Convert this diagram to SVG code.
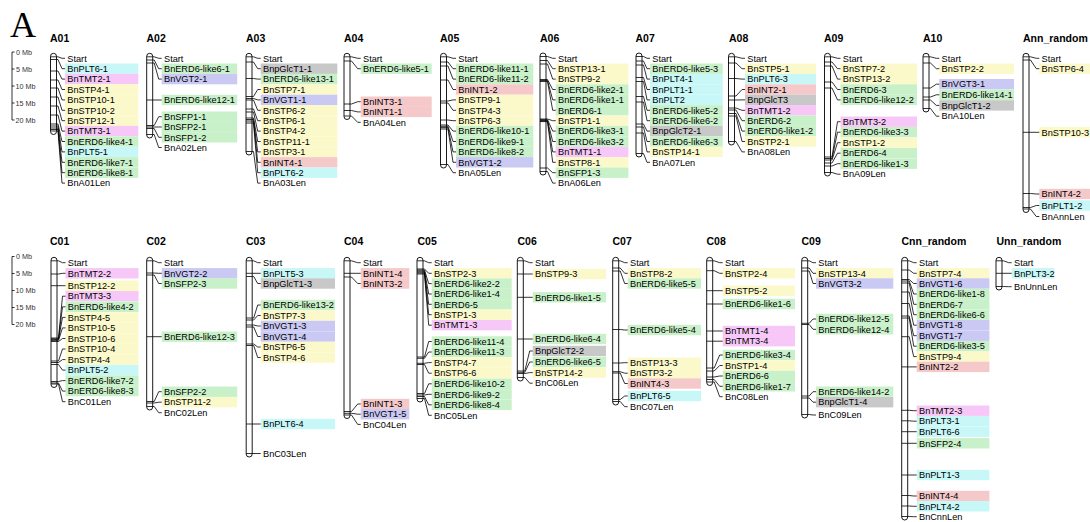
<svg xmlns="http://www.w3.org/2000/svg" width="1090" height="522" viewBox="0 0 1090 522">
<style>
.ch{fill:#fff;stroke:#000;stroke-width:.9}
.bd,.cn{stroke:#000;stroke-width:.8;fill:none}
.t{font:bold 10.5px "Liberation Sans",Arial,sans-serif}
text{font-family:"Liberation Sans",Arial,sans-serif;font-size:9.2px;fill:#000}
.s{font-size:7.2px;fill:#333}
.big{font-family:"Liberation Serif","Times New Roman",serif;font-size:36px}
.p{fill:#c8f7f7}.m{fill:#f7c8f7}.y{fill:#fbf9c9}.g{fill:#c9f1c9}.v{fill:#c9c9f4}.r{fill:#f5c9c9}.k{fill:#c8c8c8}
</style>
<rect width="1090" height="522" fill="#fff"/>
<text class="big" x="10" y="37">A</text>
<g id="scale-top">
<path class="bd" d="M14.5 52H12V120H14.5M12 69h2.5M12 86h2.5M12 103h2.5"/>
<text class="s" x="16" y="54.5">0 Mb</text><text class="s" x="16" y="71.5">5 Mb</text><text class="s" x="15.5" y="88.5">10 Mb</text><text class="s" x="15.5" y="105.5">15 Mb</text><text class="s" x="15.5" y="122.5">20 Mb</text>
</g>
<g id="scale-bottom">
<path class="bd" d="M14.5 256.5H12V324.5H14.5M12 273.5h2.5M12 290.5h2.5M12 307.5h2.5"/>
<text class="s" x="16" y="259">0 Mb</text><text class="s" x="16" y="276">5 Mb</text><text class="s" x="15.5" y="293">10 Mb</text><text class="s" x="15.5" y="310">15 Mb</text><text class="s" x="15.5" y="327">20 Mb</text>
</g>

<g id="A01">
<text class="t" x="50" y="42">A01</text>
<rect class="p" x="65" y="63.5" width="73.3" height="10.4"/><rect class="m" x="65" y="73.9" width="73.3" height="10.4"/><rect class="y" x="65" y="84.3" width="73.3" height="10.4"/><rect class="y" x="65" y="94.7" width="73.3" height="10.4"/><rect class="y" x="65" y="105.1" width="73.3" height="10.4"/><rect class="y" x="65" y="115.5" width="73.3" height="10.4"/><rect class="m" x="65" y="125.9" width="73.3" height="10.4"/><rect class="g" x="65" y="136.3" width="73.3" height="10.4"/><rect class="p" x="65" y="146.7" width="73.3" height="10.4"/><rect class="g" x="65" y="157.1" width="73.3" height="10.4"/><rect class="g" x="65" y="167.5" width="73.3" height="10.4"/>
<rect class="ch" x="50.5" y="53.3" width="6" height="81.2" rx="3"/>
<path class="bd" d="M50.5 56.8h6M50.5 59.5h6M50.5 71h6M50.5 80h6M50.5 88h6M50.5 97h6M50.5 106h6M50.5 115h6M50.5 124h6M50.5 126h6M50.5 128h6M50.5 129.5h6M50.5 131h6"/>
<text x="67.3" y="61.5">Start</text><text x="67.3" y="71.9">BnPLT6-1</text><text x="67.3" y="82.3">BnTMT2-1</text><text x="67.3" y="92.7">BnSTP4-1</text><text x="67.3" y="103.1">BnSTP10-1</text><text x="67.3" y="113.5">BnSTP10-2</text><text x="67.3" y="123.9">BnSTP12-1</text><text x="67.3" y="134.3">BnTMT3-1</text><text x="67.3" y="144.7">BnERD6-like4-1</text><text x="67.3" y="155.1">BnPLT5-1</text><text x="67.3" y="165.5">BnERD6-like7-1</text><text x="67.3" y="175.9">BnERD6-like8-1</text><text x="67.3" y="186.3">BnA01Len</text>
</g>

<g id="A02">
<text class="t" x="146.5" y="42">A02</text>
<rect class="g" x="161.7" y="63.5" width="75.5" height="10.4"/><rect class="v" x="161.7" y="73.9" width="75.5" height="10.4"/><rect class="g" x="161.7" y="94.8" width="75.5" height="10.4"/><rect class="g" x="161.7" y="111.5" width="75.5" height="10.4"/><rect class="g" x="161.7" y="121.8" width="75.5" height="10.4"/><rect class="g" x="161.7" y="132.1" width="75.5" height="10.4"/>
<rect class="ch" x="146.7" y="53.3" width="6" height="84.7" rx="3"/>
<path class="bd" d="M146.7 56.8h6M146.7 60h6M146.7 63h6M146.7 100h6M146.7 125.5h6M146.7 127h6M146.7 128.5h6M146.7 134.5h6"/>
<text x="164" y="61.5">Start</text><text x="164" y="71.9">BnERD6-like6-1</text><text x="164" y="82.3">BnVGT2-1</text><text x="164" y="103.2">BnERD6-like12-1</text><text x="164" y="119.9">BnSFP1-1</text><text x="164" y="130.2">BnSFP2-1</text><text x="164" y="140.5">BnSFP1-2</text><text x="164" y="150.7">BnA02Len</text>
</g>

<g id="A03">
<text class="t" x="246" y="42">A03</text>
<rect class="k" x="260.7" y="63.5" width="76.6" height="10.4"/><rect class="g" x="260.7" y="73.9" width="76.6" height="10.4"/><rect class="y" x="260.7" y="84.3" width="76.6" height="10.4"/><rect class="v" x="260.7" y="94.7" width="76.6" height="10.4"/><rect class="y" x="260.7" y="105.1" width="76.6" height="10.4"/><rect class="y" x="260.7" y="115.5" width="76.6" height="10.4"/><rect class="y" x="260.7" y="125.9" width="76.6" height="10.4"/><rect class="y" x="260.7" y="136.3" width="76.6" height="10.4"/><rect class="y" x="260.7" y="146.7" width="76.6" height="10.4"/><rect class="r" x="260.7" y="157.1" width="76.6" height="10.4"/><rect class="p" x="260.7" y="167.5" width="76.6" height="10.4"/>
<rect class="ch" x="246" y="53.3" width="6" height="101.7" rx="3"/>
<path class="bd" d="M246 56.8h6M246 62h6M246 78.5h6M246 96.5h6M246 98.5h6M246 100h6M246 109h6M246 112h6M246 118h6M246 119.5h6M246 121h6M246 123h6M246 151.5h6"/>
<text x="263" y="61.5">Start</text><text x="263" y="71.9">BnpGlcT1-1</text><text x="263" y="82.3">BnERD6-like13-1</text><text x="263" y="92.7">BnSTP7-1</text><text x="263" y="103.1">BnVGT1-1</text><text x="263" y="113.5">BnSTP6-2</text><text x="263" y="123.9">BnSTP6-1</text><text x="263" y="134.3">BnSTP4-2</text><text x="263" y="144.7">BnSTP11-1</text><text x="263" y="155.1">BnSTP3-1</text><text x="263" y="165.5">BnINT4-1</text><text x="263" y="175.9">BnPLT6-2</text><text x="263" y="186.3">BnA03Len</text>
</g>

<g id="A04">
<text class="t" x="344" y="42">A04</text>
<rect class="g" x="360.7" y="63.5" width="71" height="10.4"/><rect class="r" x="360.7" y="96.5" width="71" height="10.4"/><rect class="r" x="360.7" y="106.7" width="71" height="10.4"/>
<rect class="ch" x="344" y="53.3" width="6" height="66.2" rx="3"/>
<path class="bd" d="M344 56.8h6M344 61h6M344 104h6M344 110.5h6M344 116h6"/>
<text x="363" y="61.5">Start</text><text x="363" y="71.9">BnERD6-like5-1</text><text x="363" y="104.9">BnINT3-1</text><text x="363" y="115.1">BnINT1-1</text><text x="363" y="125.5">BnA04Len</text>
</g>

<g id="A05">
<text class="t" x="440" y="42">A05</text>
<rect class="g" x="456" y="63.5" width="77.3" height="10.4"/><rect class="g" x="456" y="73.9" width="77.3" height="10.4"/><rect class="r" x="456" y="84.3" width="77.3" height="10.4"/><rect class="y" x="456" y="94.7" width="77.3" height="10.4"/><rect class="y" x="456" y="105.1" width="77.3" height="10.4"/><rect class="y" x="456" y="115.5" width="77.3" height="10.4"/><rect class="g" x="456" y="125.9" width="77.3" height="10.4"/><rect class="g" x="456" y="136.3" width="77.3" height="10.4"/><rect class="g" x="456" y="146.7" width="77.3" height="10.4"/><rect class="v" x="456" y="157.1" width="77.3" height="10.4"/>
<rect class="ch" x="440.5" y="53.3" width="6" height="114.7" rx="3"/>
<path class="bd" d="M440.5 56.8h6M440.5 62h6M440.5 66h6M440.5 80h6M440.5 101h6M440.5 103h6M440.5 120h6M440.5 125h6M440.5 126.3h6M440.5 127.6h6M440.5 129h6M440.5 164.5h6"/>
<text x="458.3" y="61.5">Start</text><text x="458.3" y="71.9">BnERD6-like11-1</text><text x="458.3" y="82.3">BnERD6-like11-2</text><text x="458.3" y="92.7">BnINT1-2</text><text x="458.3" y="103.1">BnSTP9-1</text><text x="458.3" y="113.5">BnSTP4-3</text><text x="458.3" y="123.9">BnSTP6-3</text><text x="458.3" y="134.3">BnERD6-like10-1</text><text x="458.3" y="144.7">BnERD6-like9-1</text><text x="458.3" y="155.1">BnERD6-like8-2</text><text x="458.3" y="165.5">BnVGT1-2</text><text x="458.3" y="175.9">BnA05Len</text>
</g>

<g id="A06">
<text class="t" x="540" y="42">A06</text>
<rect class="y" x="555.7" y="63.5" width="72.7" height="10.4"/><rect class="y" x="555.7" y="73.9" width="72.7" height="10.4"/><rect class="g" x="555.7" y="84.3" width="72.7" height="10.4"/><rect class="g" x="555.7" y="94.7" width="72.7" height="10.4"/><rect class="g" x="555.7" y="105.1" width="72.7" height="10.4"/><rect class="y" x="555.7" y="115.5" width="72.7" height="10.4"/><rect class="g" x="555.7" y="125.9" width="72.7" height="10.4"/><rect class="g" x="555.7" y="136.3" width="72.7" height="10.4"/><rect class="m" x="555.7" y="146.7" width="72.7" height="10.4"/><rect class="y" x="555.7" y="157.1" width="72.7" height="10.4"/><rect class="g" x="555.7" y="167.5" width="72.7" height="10.4"/>
<rect class="ch" x="540" y="53" width="6" height="122" rx="3"/>
<path class="bd" d="M540 56.5h6M540 60.5h6M540 64h6M540 79.5h6M540 80.5h6M540 81.5h6M540 119h6M540 119.7h6M540 120.4h6M540 121h6M540 121.6h6M540 168h6M540 171.5h6"/>
<text x="558" y="61.5">Start</text><text x="558" y="71.9">BnSTP13-1</text><text x="558" y="82.3">BnSTP9-2</text><text x="558" y="92.7">BnERD6-like2-1</text><text x="558" y="103.1">BnERD6-like1-1</text><text x="558" y="113.5">BnERD6-1</text><text x="558" y="123.9">BnSTP1-1</text><text x="558" y="134.3">BnERD6-like3-1</text><text x="558" y="144.7">BnERD6-like3-2</text><text x="558" y="155.1">BnTMT1-1</text><text x="558" y="165.5">BnSTP8-1</text><text x="558" y="175.9">BnSFP1-3</text><text x="558" y="186.3">BnA06Len</text>
</g>

<g id="A07">
<text class="t" x="635.5" y="42">A07</text>
<rect class="g" x="650" y="63.5" width="72.7" height="10.4"/><rect class="p" x="650" y="73.9" width="72.7" height="10.4"/><rect class="p" x="650" y="84.3" width="72.7" height="10.4"/><rect class="p" x="650" y="94.7" width="72.7" height="10.4"/><rect class="g" x="650" y="105.1" width="72.7" height="10.4"/><rect class="g" x="650" y="115.5" width="72.7" height="10.4"/><rect class="k" x="650" y="125.9" width="72.7" height="10.4"/><rect class="g" x="650" y="136.3" width="72.7" height="10.4"/><rect class="y" x="650" y="146.7" width="72.7" height="10.4"/>
<rect class="ch" x="636" y="53" width="6" height="104" rx="3"/>
<path class="bd" d="M636 56.5h6M636 61h6M636 65h6M636 77.5h6M636 81.5h6M636 96.5h6M636 102h6M636 124h6M636 127h6M636 133h6M636 153.5h6"/>
<text x="652.3" y="61.5">Start</text><text x="652.3" y="71.9">BnERD6-like5-3</text><text x="652.3" y="82.3">BnPLT4-1</text><text x="652.3" y="92.7">BnPLT1-1</text><text x="652.3" y="103.1">BnPLT2</text><text x="652.3" y="113.5">BnERD6-like5-2</text><text x="652.3" y="123.9">BnERD6-like6-2</text><text x="652.3" y="134.3">BnpGlcT2-1</text><text x="652.3" y="144.7">BnERD6-like6-3</text><text x="652.3" y="155.1">BnSTP14-1</text><text x="652.3" y="165.5">BnA07Len</text>
</g>

<g id="A08">
<text class="t" x="729" y="42">A08</text>
<rect class="y" x="745" y="63.5" width="71" height="10.4"/><rect class="p" x="745" y="73.9" width="71" height="10.4"/><rect class="r" x="745" y="84.3" width="71" height="10.4"/><rect class="k" x="745" y="94.7" width="71" height="10.4"/><rect class="m" x="745" y="105.1" width="71" height="10.4"/><rect class="g" x="745" y="115.5" width="71" height="10.4"/><rect class="g" x="745" y="125.9" width="71" height="10.4"/><rect class="y" x="745" y="136.3" width="71" height="10.4"/>
<rect class="ch" x="728.5" y="53.3" width="6" height="91.7" rx="3"/>
<path class="bd" d="M728.5 56.8h6M728.5 63h6M728.5 78.5h6M728.5 96h6M728.5 100h6M728.5 108h6M728.5 110h6M728.5 113.5h6M728.5 116h6M728.5 141.5h6"/>
<text x="747.3" y="61.5">Start</text><text x="747.3" y="71.9">BnSTP5-1</text><text x="747.3" y="82.3">BnPLT6-3</text><text x="747.3" y="92.7">BnINT2-1</text><text x="747.3" y="103.1">BnpGlcT3</text><text x="747.3" y="113.5">BnTMT1-2</text><text x="747.3" y="123.9">BnERD6-2</text><text x="747.3" y="134.3">BnERD6-like1-2</text><text x="747.3" y="144.7">BnSTP2-1</text><text x="747.3" y="155.1">BnA08Len</text>
</g>

<g id="A09">
<text class="t" x="824" y="42">A09</text>
<rect class="y" x="840.5" y="63.5" width="76.5" height="10.4"/><rect class="y" x="840.5" y="73.9" width="76.5" height="10.4"/><rect class="g" x="840.5" y="84.3" width="76.5" height="10.4"/><rect class="g" x="840.5" y="94.7" width="76.5" height="10.4"/><rect class="m" x="840.5" y="116.5" width="76.5" height="10.4"/><rect class="g" x="840.5" y="127" width="76.5" height="10.4"/><rect class="y" x="840.5" y="137.5" width="76.5" height="10.4"/><rect class="g" x="840.5" y="148" width="76.5" height="10.4"/><rect class="g" x="840.5" y="158.5" width="76.5" height="10.4"/>
<rect class="ch" x="824.5" y="53.3" width="6" height="122.7" rx="3"/>
<path class="bd" d="M824.5 56.8h6M824.5 62h6M824.5 66h6M824.5 82h6M824.5 88h6M824.5 157h6M824.5 158.5h6M824.5 160h6M824.5 163h6M824.5 166h6M824.5 172.5h6"/>
<text x="842.8" y="61.5">Start</text><text x="842.8" y="71.9">BnSTP7-2</text><text x="842.8" y="82.3">BnSTP13-2</text><text x="842.8" y="92.7">BnERD6-3</text><text x="842.8" y="103.1">BnERD6-like12-2</text><text x="842.8" y="124.9">BnTMT3-2</text><text x="842.8" y="135.4">BnERD6-like3-3</text><text x="842.8" y="145.9">BnSTP1-2</text><text x="842.8" y="156.4">BnERD6-4</text><text x="842.8" y="166.9">BnERD6-like1-3</text><text x="842.8" y="177.4">BnA09Len</text>
</g>

<g id="A10">
<text class="t" x="923" y="42">A10</text>
<rect class="y" x="939.3" y="63.5" width="74.7" height="10.4"/><rect class="v" x="939.3" y="79" width="74.7" height="10.4"/><rect class="g" x="939.3" y="89.6" width="74.7" height="10.4"/><rect class="k" x="939.3" y="100.2" width="74.7" height="10.4"/>
<rect class="ch" x="923" y="53.3" width="6" height="58.7" rx="3"/>
<path class="bd" d="M923 56.8h6M923 63h6M923 88h6M923 97h6M923 100h6M923 108.5h6"/>
<text x="941.6" y="61.5">Start</text><text x="941.6" y="71.9">BnSTP2-2</text><text x="941.6" y="87.4">BnVGT3-1</text><text x="941.6" y="98">BnERD6-like14-1</text><text x="941.6" y="108.6">BnpGlcT1-2</text><text x="941.6" y="119.4">BnA10Len</text>
</g>

<g id="Ann_random">
<text class="t" x="1023" y="42">Ann_random</text>
<rect class="y" x="1039.3" y="63.5" width="56" height="10.4"/><rect class="y" x="1039.3" y="127.1" width="56" height="10.4"/><rect class="r" x="1039.3" y="188.8" width="56" height="10.4"/><rect class="p" x="1039.3" y="200.3" width="56" height="10.4"/>
<rect class="ch" x="1023" y="53.3" width="6" height="159.2" rx="3"/>
<path class="bd" d="M1023 56.8h6M1023 60h6M1023 132.3h6M1023 193.5h6M1023 207.5h6M1023 209h6"/>
<text x="1041.6" y="61.5">Start</text><text x="1041.6" y="71.9">BnSTP6-4</text><text x="1041.6" y="135.5">BnSTP10-3</text><text x="1041.6" y="197.2">BnINT4-2</text><text x="1041.6" y="208.7">BnPLT1-2</text><text x="1041.6" y="219.7">BnAnnLen</text>
</g>

<g id="C01">
<text class="t" x="50" y="245">C01</text>
<rect class="m" x="65.5" y="268.1" width="73" height="10.4"/><rect class="y" x="65.5" y="280.5" width="73" height="10.4"/><rect class="m" x="65.5" y="291" width="73" height="10.4"/><rect class="g" x="65.5" y="301.6" width="73" height="10.4"/><rect class="y" x="65.5" y="312.2" width="73" height="10.4"/><rect class="y" x="65.5" y="322.7" width="73" height="10.4"/><rect class="y" x="65.5" y="333.3" width="73" height="10.4"/><rect class="y" x="65.5" y="343.8" width="73" height="10.4"/><rect class="y" x="65.5" y="354.4" width="73" height="10.4"/><rect class="p" x="65.5" y="364.9" width="73" height="10.4"/><rect class="g" x="65.5" y="375.4" width="73" height="10.4"/><rect class="g" x="65.5" y="385.9" width="73" height="10.4"/>
<rect class="ch" x="51" y="257.3" width="6" height="130.2" rx="3"/>
<path class="bd" d="M51 260.8h6M51 274h6M51 285.7h6M51 338h6M51 338.8h6M51 339.6h6M51 340.4h6M51 341.5h6M51 361h6M51 362.5h6M51 364.5h6M51 381.5h6M51 383h6M51 384h6"/>
<text x="67.8" y="265.9">Start</text><text x="67.8" y="276.5">BnTMT2-2</text><text x="67.8" y="288.9">BnSTP12-2</text><text x="67.8" y="299.4">BnTMT3-3</text><text x="67.8" y="310">BnERD6-like4-2</text><text x="67.8" y="320.6">BnSTP4-5</text><text x="67.8" y="331.1">BnSTP10-5</text><text x="67.8" y="341.7">BnSTP10-6</text><text x="67.8" y="352.2">BnSTP10-4</text><text x="67.8" y="362.8">BnSTP4-4</text><text x="67.8" y="373.3">BnPLT5-2</text><text x="67.8" y="383.8">BnERD6-like7-2</text><text x="67.8" y="394.3">BnERD6-like8-3</text><text x="67.8" y="404.9">BnC01Len</text>
</g>

<g id="C02">
<text class="t" x="146.5" y="245">C02</text>
<rect class="v" x="161.7" y="268.1" width="75.5" height="10.4"/><rect class="g" x="161.7" y="278.3" width="75.5" height="10.4"/><rect class="g" x="161.7" y="331.5" width="75.5" height="10.4"/><rect class="g" x="161.7" y="386.5" width="75.5" height="10.4"/><rect class="y" x="161.7" y="397" width="75.5" height="10.4"/>
<rect class="ch" x="146.7" y="257.3" width="6" height="152.7" rx="3"/>
<path class="bd" d="M146.7 260.8h6M146.7 273h6M146.7 275h6M146.7 336.7h6M146.7 401.5h6M146.7 403h6M146.7 406.5h6"/>
<text x="164" y="265.9">Start</text><text x="164" y="276.5">BnVGT2-2</text><text x="164" y="286.7">BnSFP2-3</text><text x="164" y="339.9">BnERD6-like12-3</text><text x="164" y="394.9">BnSFP2-2</text><text x="164" y="405.4">BnSTP11-2</text><text x="164" y="415.9">BnC02Len</text>
</g>

<g id="C03">
<text class="t" x="246" y="245">C03</text>
<rect class="p" x="260.7" y="268.1" width="74.3" height="10.4"/><rect class="k" x="260.7" y="278.3" width="74.3" height="10.4"/><rect class="g" x="260.7" y="299.8" width="74.3" height="10.4"/><rect class="y" x="260.7" y="310.3" width="74.3" height="10.4"/><rect class="v" x="260.7" y="320.8" width="74.3" height="10.4"/><rect class="v" x="260.7" y="331.3" width="74.3" height="10.4"/><rect class="y" x="260.7" y="341.8" width="74.3" height="10.4"/><rect class="y" x="260.7" y="352.3" width="74.3" height="10.4"/><rect class="p" x="260.7" y="418.8" width="74.3" height="10.4"/>
<rect class="ch" x="246.2" y="257.3" width="6" height="199.7" rx="3"/>
<path class="bd" d="M246.2 260.8h6M246.2 273.3h6M246.2 276.5h6M246.2 318h6M246.2 320h6M246.2 325h6M246.2 327h6M246.2 344h6M246.2 345.5h6M246.2 424h6M246.2 453.5h6"/>
<text x="263" y="265.9">Start</text><text x="263" y="276.5">BnPLT5-3</text><text x="263" y="286.7">BnpGlcT1-3</text><text x="263" y="308.2">BnERD6-like13-2</text><text x="263" y="318.7">BnSTP7-3</text><text x="263" y="329.2">BnVGT1-3</text><text x="263" y="339.7">BnVGT1-4</text><text x="263" y="350.2">BnSTP6-5</text><text x="263" y="360.7">BnSTP4-6</text><text x="263" y="427.2">BnPLT6-4</text><text x="263" y="456.7">BnC03Len</text>
</g>

<g id="C04">
<text class="t" x="344" y="245">C04</text>
<rect class="r" x="360.7" y="268.1" width="48.6" height="10.4"/><rect class="r" x="360.7" y="278.3" width="48.6" height="10.4"/><rect class="r" x="360.7" y="398.8" width="48.6" height="10.4"/><rect class="v" x="360.7" y="409" width="48.6" height="10.4"/>
<rect class="ch" x="344" y="257.3" width="6" height="161.2" rx="3"/>
<path class="bd" d="M344 260.8h6M344 273.3h6M344 277h6M344 411.5h6M344 413.3h6M344 415h6"/>
<text x="363" y="265.9">Start</text><text x="363" y="276.5">BnINT1-4</text><text x="363" y="286.7">BnINT3-2</text><text x="363" y="407.2">BnINT1-3</text><text x="363" y="417.4">BnVGT1-5</text><text x="363" y="427.6">BnC04Len</text>
</g>

<g id="C05">
<text class="t" x="417.5" y="245">C05</text>
<rect class="y" x="431.7" y="268.1" width="80" height="10.4"/><rect class="g" x="431.7" y="278.4" width="80" height="10.4"/><rect class="g" x="431.7" y="288.8" width="80" height="10.4"/><rect class="g" x="431.7" y="299.1" width="80" height="10.4"/><rect class="y" x="431.7" y="309.5" width="80" height="10.4"/><rect class="m" x="431.7" y="320" width="80" height="10.4"/><rect class="g" x="431.7" y="336.3" width="80" height="10.4"/><rect class="g" x="431.7" y="346.8" width="80" height="10.4"/><rect class="y" x="431.7" y="357.4" width="80" height="10.4"/><rect class="y" x="431.7" y="368" width="80" height="10.4"/><rect class="g" x="431.7" y="378.6" width="80" height="10.4"/><rect class="g" x="431.7" y="389.1" width="80" height="10.4"/><rect class="g" x="431.7" y="399.6" width="80" height="10.4"/>
<rect class="ch" x="417" y="257.3" width="6" height="144.7" rx="3"/>
<path class="bd" d="M417 260.8h6M417 269h6M417 270h6M417 271h6M417 272h6M417 273h6M417 274h6M417 357h6M417 358.3h6M417 363.3h6M417 364.5h6M417 393.5h6M417 395h6M417 396.5h6M417 398.5h6"/>
<text x="434" y="265.9">Start</text><text x="434" y="276.5">BnSTP2-3</text><text x="434" y="286.8">BnERD6-like2-2</text><text x="434" y="297.2">BnERD6-like1-4</text><text x="434" y="307.5">BnERD6-5</text><text x="434" y="317.9">BnSTP1-3</text><text x="434" y="328.4">BnTMT1-3</text><text x="434" y="344.7">BnERD6-like11-4</text><text x="434" y="355.2">BnERD6-like11-3</text><text x="434" y="365.8">BnSTP4-7</text><text x="434" y="376.4">BnSTP6-6</text><text x="434" y="387">BnERD6-like10-2</text><text x="434" y="397.5">BnERD6-like9-2</text><text x="434" y="408">BnERD6-like8-4</text><text x="434" y="418.5">BnC05Len</text>
</g>

<g id="C06">
<text class="t" x="517.5" y="245">C06</text>
<rect class="y" x="532.7" y="268.8" width="73.3" height="10.4"/><rect class="g" x="532.7" y="292.1" width="73.3" height="10.4"/><rect class="g" x="532.7" y="333.8" width="73.3" height="10.4"/><rect class="k" x="532.7" y="345.8" width="73.3" height="10.4"/><rect class="g" x="532.7" y="356.8" width="73.3" height="10.4"/><rect class="y" x="532.7" y="367.4" width="73.3" height="10.4"/>
<rect class="ch" x="517.3" y="257.3" width="6" height="123.7" rx="3"/>
<path class="bd" d="M517.3 260.8h6M517.3 274h6M517.3 297.3h6M517.3 339h6M517.3 371h6M517.3 372.3h6M517.3 373.5h6M517.3 377.5h6"/>
<text x="535" y="265.9">Start</text><text x="535" y="277.2">BnSTP9-3</text><text x="535" y="300.5">BnERD6-like1-5</text><text x="535" y="342.2">BnERD6-like6-4</text><text x="535" y="354.2">BnpGlcT2-2</text><text x="535" y="365.2">BnERD6-like6-5</text><text x="535" y="375.8">BnSTP14-2</text><text x="535" y="386.4">BnC06Len</text>
</g>

<g id="C07">
<text class="t" x="612.5" y="245">C07</text>
<rect class="y" x="627.7" y="268.1" width="73.3" height="10.4"/><rect class="g" x="627.7" y="278.3" width="73.3" height="10.4"/><rect class="g" x="627.7" y="324.8" width="73.3" height="10.4"/><rect class="y" x="627.7" y="357.5" width="73.3" height="10.4"/><rect class="y" x="627.7" y="368" width="73.3" height="10.4"/><rect class="r" x="627.7" y="378.3" width="73.3" height="10.4"/><rect class="p" x="627.7" y="390.8" width="73.3" height="10.4"/>
<rect class="ch" x="612.7" y="257.3" width="6" height="147.7" rx="3"/>
<path class="bd" d="M612.7 260.8h6M612.7 268h6M612.7 271h6M612.7 329.5h6M612.7 363h6M612.7 371.7h6M612.7 373h6M612.7 399.5h6M612.7 401.5h6"/>
<text x="630" y="265.9">Start</text><text x="630" y="276.5">BnSTP8-2</text><text x="630" y="286.7">BnERD6-like5-5</text><text x="630" y="333.2">BnERD6-like5-4</text><text x="630" y="365.9">BnSTP13-3</text><text x="630" y="376.4">BnSTP3-2</text><text x="630" y="386.7">BnINT4-3</text><text x="630" y="399.2">BnPLT6-5</text><text x="630" y="409.9">BnC07Len</text>
</g>

<g id="C08">
<text class="t" x="706.5" y="245">C08</text>
<rect class="y" x="722.7" y="268.1" width="72.3" height="10.4"/><rect class="y" x="722.7" y="285.5" width="72.3" height="10.4"/><rect class="g" x="722.7" y="298.8" width="72.3" height="10.4"/><rect class="m" x="722.7" y="325.8" width="72.3" height="10.4"/><rect class="m" x="722.7" y="336" width="72.3" height="10.4"/><rect class="g" x="722.7" y="349.8" width="72.3" height="10.4"/><rect class="y" x="722.7" y="360.3" width="72.3" height="10.4"/><rect class="g" x="722.7" y="370.8" width="72.3" height="10.4"/><rect class="g" x="722.7" y="381.1" width="72.3" height="10.4"/>
<rect class="ch" x="706.7" y="257.3" width="6" height="128.2" rx="3"/>
<path class="bd" d="M706.7 260.8h6M706.7 270.7h6M706.7 290.7h6M706.7 304h6M706.7 331h6M706.7 341.2h6M706.7 368h6M706.7 371h6M706.7 377h6M706.7 379.5h6M706.7 382h6"/>
<text x="725" y="265.9">Start</text><text x="725" y="276.5">BnSTP2-4</text><text x="725" y="293.9">BnSTP5-2</text><text x="725" y="307.2">BnERD6-like1-6</text><text x="725" y="334.2">BnTMT1-4</text><text x="725" y="344.4">BnTMT3-4</text><text x="725" y="358.2">BnERD6-like3-4</text><text x="725" y="368.7">BnSTP1-4</text><text x="725" y="379.2">BnERD6-6</text><text x="725" y="389.5">BnERD6-like1-7</text><text x="725" y="399.9">BnC08Len</text>
</g>

<g id="C09">
<text class="t" x="801.5" y="245">C09</text>
<rect class="y" x="816" y="268.1" width="77.3" height="10.4"/><rect class="v" x="816" y="278.3" width="77.3" height="10.4"/><rect class="g" x="816" y="313.8" width="77.3" height="10.4"/><rect class="g" x="816" y="324.1" width="77.3" height="10.4"/><rect class="g" x="816" y="386.5" width="77.3" height="10.4"/><rect class="k" x="816" y="397" width="77.3" height="10.4"/>
<rect class="ch" x="801.7" y="257.3" width="6" height="160.7" rx="3"/>
<path class="bd" d="M801.7 260.8h6M801.7 268h6M801.7 271h6M801.7 323.3h6M801.7 324.5h6M801.7 396h6M801.7 398h6M801.7 414.5h6"/>
<text x="818.3" y="265.9">Start</text><text x="818.3" y="276.5">BnSTP13-4</text><text x="818.3" y="286.7">BnVGT3-2</text><text x="818.3" y="322.2">BnERD6-like12-5</text><text x="818.3" y="332.5">BnERD6-like12-4</text><text x="818.3" y="394.9">BnERD6-like14-2</text><text x="818.3" y="405.4">BnpGlcT1-4</text><text x="818.3" y="418.2">BnC09Len</text>
</g>

<g id="Cnn_random">
<text class="t" x="901.5" y="245">Cnn_random</text>
<rect class="y" x="916.7" y="268.1" width="72.7" height="10.4"/><rect class="v" x="916.7" y="278.3" width="72.7" height="10.4"/><rect class="g" x="916.7" y="288.8" width="72.7" height="10.4"/><rect class="g" x="916.7" y="299.1" width="72.7" height="10.4"/><rect class="g" x="916.7" y="309.5" width="72.7" height="10.4"/><rect class="v" x="916.7" y="320" width="72.7" height="10.4"/><rect class="v" x="916.7" y="330.5" width="72.7" height="10.4"/><rect class="g" x="916.7" y="341" width="72.7" height="10.4"/><rect class="y" x="916.7" y="351.4" width="72.7" height="10.4"/><rect class="r" x="916.7" y="361.7" width="72.7" height="10.4"/><rect class="m" x="916.7" y="405.5" width="72.7" height="10.4"/><rect class="p" x="916.7" y="416" width="72.7" height="10.4"/><rect class="p" x="916.7" y="426.5" width="72.7" height="10.4"/><rect class="g" x="916.7" y="438.1" width="72.7" height="10.4"/><rect class="p" x="916.7" y="469.8" width="72.7" height="10.4"/><rect class="r" x="916.7" y="490.8" width="72.7" height="10.4"/><rect class="p" x="916.7" y="501.1" width="72.7" height="10.4"/>
<rect class="ch" x="901.7" y="257.3" width="6" height="262.7" rx="3"/>
<path class="bd" d="M901.7 260.8h6M901.7 270h6M901.7 279.5h6M901.7 281h6M901.7 283h6M901.7 292h6M901.7 303.5h6M901.7 316h6M901.7 318h6M901.7 336.7h6M901.7 366.9h6M901.7 410.3h6M901.7 420.8h6M901.7 431.7h6M901.7 443.3h6M901.7 475h6M901.7 495.5h6M901.7 506h6M901.7 516.5h6"/>
<text x="919" y="265.9">Start</text><text x="919" y="276.5">BnSTP7-4</text><text x="919" y="286.7">BnVGT1-6</text><text x="919" y="297.2">BnERD6-like1-8</text><text x="919" y="307.5">BnERD6-7</text><text x="919" y="317.9">BnERD6-like6-6</text><text x="919" y="328.4">BnVGT1-8</text><text x="919" y="338.9">BnVGT1-7</text><text x="919" y="349.4">BnERD6-like3-5</text><text x="919" y="359.8">BnSTP9-4</text><text x="919" y="370.1">BnINT2-2</text><text x="919" y="413.9">BnTMT2-3</text><text x="919" y="424.4">BnPLT3-1</text><text x="919" y="434.9">BnPLT6-6</text><text x="919" y="446.5">BnSFP2-4</text><text x="919" y="478.2">BnPLT1-3</text><text x="919" y="499.2">BnINT4-4</text><text x="919" y="509.5">BnPLT4-2</text><text x="919" y="519.9">BnCnnLen</text>
</g>

<g id="Unn_random">
<text class="t" x="996.5" y="245">Unn_random</text>
<rect class="p" x="1011.7" y="268.1" width="42.6" height="10.4"/>
<rect class="ch" x="996" y="257.3" width="6" height="32.7" rx="3"/>
<path class="bd" d="M996 260.8h6M996 273.3h6M996 286.5h6"/>
<text x="1014" y="265.9">Start</text><text x="1014" y="276.5">BnPLT3-2</text><text x="1014" y="289.9">BnUnnLen</text>
</g>

<g id="connectors">
<path class="cn" d="M56.5 56.8h1.5L62 58.3H65M56.5 59.5h1.5L62 68.7H65M56.5 71h1.5L62 79.1H65M56.5 80h1.5L62 89.5H65M56.5 88h1.5L62 99.9H65M56.5 97h1.5L62 110.3H65M56.5 106h1.5L62 120.7H65M56.5 115h1.5L62 131.1H65M56.5 124h1.5L62 141.5H65M56.5 126h1.5L62 151.9H65M56.5 128h1.5L62 162.3H65M56.5 129.5h1.5L62 172.7H65M56.5 131h1.5L62 183.1H65"/>
<path class="cn" d="M152.7 56.8h1.5L158.7 58.3H161.7M152.7 60h1.5L158.7 68.7H161.7M152.7 63h1.5L158.7 79.1H161.7M152.7 100H161.7M152.7 125.5h1.5L158.7 116.7H161.7M152.7 127h1.5L158.7 127H161.7M152.7 128.5h1.5L158.7 137.3H161.7M152.7 134.5h1.5L158.7 147.5H161.7"/>
<path class="cn" d="M252 56.8h1.5L257.7 58.3H260.7M252 62h1.5L257.7 68.7H260.7M252 78.5h1.5L257.7 79.1H260.7M252 96.5h1.5L257.7 89.5H260.7M252 98.5h1.5L257.7 99.9H260.7M252 100h1.5L257.7 110.3H260.7M252 109h1.5L257.7 120.7H260.7M252 112h1.5L257.7 131.1H260.7M252 118h1.5L257.7 141.5H260.7M252 119.5h1.5L257.7 151.9H260.7M252 121h1.5L257.7 162.3H260.7M252 123h1.5L257.7 172.7H260.7M252 151.5h1.5L257.7 183.1H260.7"/>
<path class="cn" d="M350 56.8h1.5L357.7 58.3H360.7M350 61h1.5L357.7 68.7H360.7M350 104h1.5L357.7 101.7H360.7M350 110.5h1.5L357.7 111.9H360.7M350 116h1.5L357.7 122.3H360.7"/>
<path class="cn" d="M446.5 56.8h1.5L453 58.3H456M446.5 62h1.5L453 68.7H456M446.5 66h1.5L453 79.1H456M446.5 80h1.5L453 89.5H456M446.5 101h1.5L453 99.9H456M446.5 103h1.5L453 110.3H456M446.5 120h1.5L453 120.7H456M446.5 125h1.5L453 131.1H456M446.5 126.3h1.5L453 141.5H456M446.5 127.6h1.5L453 151.9H456M446.5 129h1.5L453 162.3H456M446.5 164.5h1.5L453 172.7H456"/>
<path class="cn" d="M546 56.5h1.5L552.7 58.3H555.7M546 60.5h1.5L552.7 68.7H555.7M546 64h1.5L552.7 79.1H555.7M546 79.5h1.5L552.7 89.5H555.7M546 80.5h1.5L552.7 99.9H555.7M546 81.5h1.5L552.7 110.3H555.7M546 119h1.5L552.7 120.7H555.7M546 119.7h1.5L552.7 131.1H555.7M546 120.4h1.5L552.7 141.5H555.7M546 121h1.5L552.7 151.9H555.7M546 121.6h1.5L552.7 162.3H555.7M546 168h1.5L552.7 172.7H555.7M546 171.5h1.5L552.7 183.1H555.7"/>
<path class="cn" d="M642 56.5h1.5L647 58.3H650M642 61h1.5L647 68.7H650M642 65h1.5L647 79.1H650M642 77.5h1.5L647 89.5H650M642 81.5h1.5L647 99.9H650M642 96.5h1.5L647 110.3H650M642 102h1.5L647 120.7H650M642 124h1.5L647 131.1H650M642 127h1.5L647 141.5H650M642 133h1.5L647 151.9H650M642 153.5h1.5L647 162.3H650"/>
<path class="cn" d="M734.5 56.8h1.5L742 58.3H745M734.5 63h1.5L742 68.7H745M734.5 78.5h1.5L742 79.1H745M734.5 96h1.5L742 89.5H745M734.5 100h1.5L742 99.9H745M734.5 108h1.5L742 110.3H745M734.5 110h1.5L742 120.7H745M734.5 113.5h1.5L742 131.1H745M734.5 116h1.5L742 141.5H745M734.5 141.5h1.5L742 151.9H745"/>
<path class="cn" d="M830.5 56.8h1.5L837.5 58.3H840.5M830.5 62h1.5L837.5 68.7H840.5M830.5 66h1.5L837.5 79.1H840.5M830.5 82h1.5L837.5 89.5H840.5M830.5 88h1.5L837.5 99.9H840.5M830.5 157h1.5L837.5 121.7H840.5M830.5 158.5h1.5L837.5 132.2H840.5M830.5 160h1.5L837.5 142.7H840.5M830.5 163h1.5L837.5 153.2H840.5M830.5 166h1.5L837.5 163.7H840.5M830.5 172.5h1.5L837.5 174.2H840.5"/>
<path class="cn" d="M929 56.8h1.5L936.3 58.3H939.3M929 63h1.5L936.3 68.7H939.3M929 88h1.5L936.3 84.2H939.3M929 97h1.5L936.3 94.8H939.3M929 100h1.5L936.3 105.4H939.3M929 108.5h1.5L936.3 116.2H939.3"/>
<path class="cn" d="M1029 56.8h1.5L1036.3 58.3H1039.3M1029 60h1.5L1036.3 68.7H1039.3M1029 132.3H1039.3M1029 193.5h1.5L1036.3 194H1039.3M1029 207.5h1.5L1036.3 205.5H1039.3M1029 209h1.5L1036.3 216.5H1039.3"/>
<path class="cn" d="M57 260.8h1.5L62.5 262.7H65.5M57 274h1.5L62.5 273.3H65.5M57 285.7H65.5M57 338h1.5L62.5 296.2H65.5M57 338.8h1.5L62.5 306.8H65.5M57 339.6h1.5L62.5 317.4H65.5M57 340.4h1.5L62.5 327.9H65.5M57 341.5h1.5L62.5 338.5H65.5M57 361h1.5L62.5 349H65.5M57 362.5h1.5L62.5 359.6H65.5M57 364.5h1.5L62.5 370.1H65.5M57 381.5h1.5L62.5 380.6H65.5M57 383h1.5L62.5 391.1H65.5M57 384h1.5L62.5 401.7H65.5"/>
<path class="cn" d="M152.7 260.8h1.5L158.7 262.7H161.7M152.7 273h1.5L158.7 273.3H161.7M152.7 275h1.5L158.7 283.5H161.7M152.7 336.7H161.7M152.7 401.5h1.5L158.7 391.7H161.7M152.7 403h1.5L158.7 402.2H161.7M152.7 406.5h1.5L158.7 412.7H161.7"/>
<path class="cn" d="M252.2 260.8h1.5L257.7 262.7H260.7M252.2 273.3H260.7M252.2 276.5h1.5L257.7 283.5H260.7M252.2 318h1.5L257.7 305H260.7M252.2 320h1.5L257.7 315.5H260.7M252.2 325h1.5L257.7 326H260.7M252.2 327h1.5L257.7 336.5H260.7M252.2 344h1.5L257.7 347H260.7M252.2 345.5h1.5L257.7 357.5H260.7M252.2 424H260.7M252.2 453.5H260.7"/>
<path class="cn" d="M350 260.8h1.5L357.7 262.7H360.7M350 273.3H360.7M350 277h1.5L357.7 283.5H360.7M350 411.5h1.5L357.7 404H360.7M350 413.3h1.5L357.7 414.2H360.7M350 415h1.5L357.7 424.4H360.7"/>
<path class="cn" d="M423 260.8h1.5L428.7 262.7H431.7M423 269h1.5L428.7 273.3H431.7M423 270h1.5L428.7 283.6H431.7M423 271h1.5L428.7 294H431.7M423 272h1.5L428.7 304.3H431.7M423 273h1.5L428.7 314.7H431.7M423 274h1.5L428.7 325.2H431.7M423 357h1.5L428.7 341.5H431.7M423 358.3h1.5L428.7 352H431.7M423 363.3h1.5L428.7 362.6H431.7M423 364.5h1.5L428.7 373.2H431.7M423 393.5h1.5L428.7 383.8H431.7M423 395h1.5L428.7 394.3H431.7M423 396.5h1.5L428.7 404.8H431.7M423 398.5h1.5L428.7 415.3H431.7"/>
<path class="cn" d="M523.3 260.8h1.5L529.7 262.7H532.7M523.3 274H532.7M523.3 297.3H532.7M523.3 339H532.7M523.3 371h1.5L529.7 351H532.7M523.3 372.3h1.5L529.7 362H532.7M523.3 373.5h1.5L529.7 372.6H532.7M523.3 377.5h1.5L529.7 383.2H532.7"/>
<path class="cn" d="M618.7 260.8h1.5L624.7 262.7H627.7M618.7 268h1.5L624.7 273.3H627.7M618.7 271h1.5L624.7 283.5H627.7M618.7 329.5h1.5L624.7 330H627.7M618.7 363h1.5L624.7 362.7H627.7M618.7 371.7h1.5L624.7 373.2H627.7M618.7 373h1.5L624.7 383.5H627.7M618.7 399.5h1.5L624.7 396H627.7M618.7 401.5h1.5L624.7 406.7H627.7"/>
<path class="cn" d="M712.7 260.8h1.5L719.7 262.7H722.7M712.7 270.7h1.5L719.7 273.3H722.7M712.7 290.7H722.7M712.7 304H722.7M712.7 331H722.7M712.7 341.2H722.7M712.7 368h1.5L719.7 355H722.7M712.7 371h1.5L719.7 365.5H722.7M712.7 377h1.5L719.7 376H722.7M712.7 379.5h1.5L719.7 386.3H722.7M712.7 382h1.5L719.7 396.7H722.7"/>
<path class="cn" d="M807.7 260.8h1.5L813 262.7H816M807.7 268h1.5L813 273.3H816M807.7 271h1.5L813 283.5H816M807.7 323.3h1.5L813 319H816M807.7 324.5h1.5L813 329.3H816M807.7 396h1.5L813 391.7H816M807.7 398h1.5L813 402.2H816M807.7 414.5h1.5L813 415H816"/>
<path class="cn" d="M907.7 260.8h1.5L913.7 262.7H916.7M907.7 270h1.5L913.7 273.3H916.7M907.7 279.5h1.5L913.7 283.5H916.7M907.7 281h1.5L913.7 294H916.7M907.7 283h1.5L913.7 304.3H916.7M907.7 292h1.5L913.7 314.7H916.7M907.7 303.5h1.5L913.7 325.2H916.7M907.7 316h1.5L913.7 335.7H916.7M907.7 318h1.5L913.7 346.2H916.7M907.7 336.7h1.5L913.7 356.6H916.7M907.7 366.9H916.7M907.7 410.3h1.5L913.7 410.7H916.7M907.7 420.8h1.5L913.7 421.2H916.7M907.7 431.7H916.7M907.7 443.3H916.7M907.7 475H916.7M907.7 495.5h1.5L913.7 496H916.7M907.7 506h1.5L913.7 506.3H916.7M907.7 516.5h1.5L913.7 516.7H916.7"/>
<path class="cn" d="M1002 260.8h1.5L1008.7 262.7H1011.7M1002 273.3H1011.7M1002 286.5h1.5L1008.7 286.7H1011.7"/>
</g>
</svg>
